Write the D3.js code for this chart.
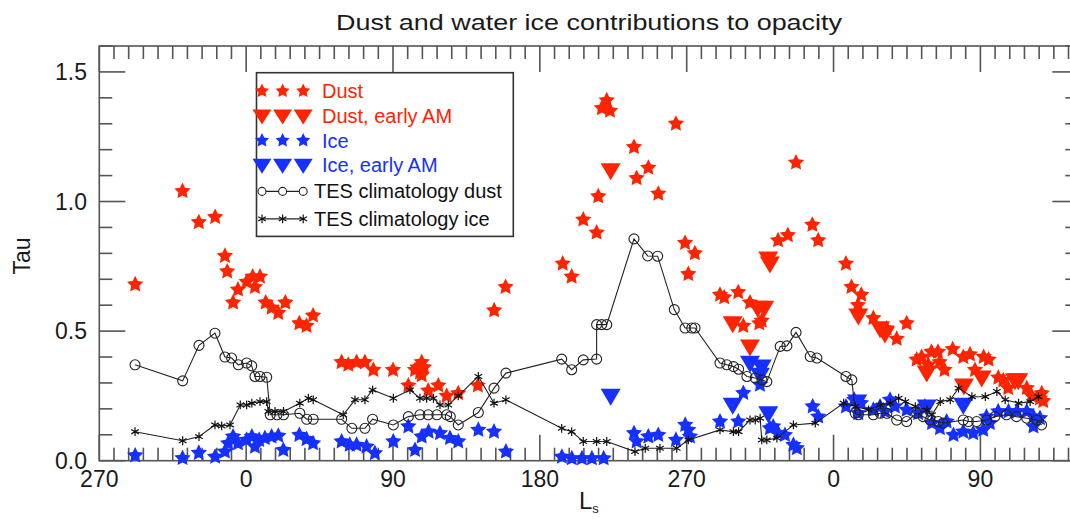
<!DOCTYPE html>
<html>
<head>
<meta charset="utf-8">
<script src="https://cdn.jsdelivr.net/npm/d3@7/dist/d3.min.js"></script>
<style>
  html, body { margin: 0; padding: 0; background: #fff; }
  svg { display: block; font-family: "Liberation Sans", Arial, Helvetica, sans-serif; }
</style>
</head>
<body>
<svg id="chart" width="1070" height="519"></svg>
<script>
// Cumulative Ls (degrees, -90 = Ls 270 of the previous year) and optical depth

const dustLs  = [-68, -39, -29, -19, -13, -11.6, -8, -5, 0.3, 4, 5.4, 8.5, 12, 15.6, 19.7, 24, 32.6, 37, 41,
  58.5, 62.6, 67.7, 72.8, 78, 90, 99.4, 103.5, 105, 107.6, 109, 106.5, 107.6, 111.6, 117.8, 122.9, 130,
  142, 152, 159, 194, 199.5, 206.6, 214.8, 215.8, 218, 221, 223, 237.7, 239.3, 246.5, 252.6, 263.4, 269,
  275, 271, 290.4, 293, 301.6, 308.8, 304.7, 314.5, 316, 326, 332, 337, 347, 350.6, 367.6, 371, 377, 375,
  384.4, 392.6, 398.7, 404.8, 410.9, 414, 418, 420, 424, 425, 428, 433, 439.5, 443.6, 446.7, 452, 455,
  461, 464, 467, 478.4, 481.4, 486.5, 487.6, 488.5];
const dustTau = [0.68, 1.04, 0.92, 0.94, 0.79, 0.73, 0.61, 0.66, 0.69, 0.71, 0.67, 0.71, 0.61, 0.59, 0.57, 0.61, 0.53, 0.52, 0.56,
  0.38, 0.37, 0.38, 0.38, 0.35, 0.35, 0.29, 0.35, 0.36, 0.38, 0.36, 0.34, 0.33, 0.27, 0.29, 0.25, 0.26,
  0.29, 0.58, 0.67, 0.76, 0.71, 0.93, 0.88, 1.02, 1.36, 1.39, 1.35, 1.21, 1.09, 1.13, 1.03, 1.30, 0.84,
  0.80, 0.72, 0.64, 0.63, 0.65, 0.61, 0.52, 0.53, 0.54, 0.85, 0.87, 1.15, 0.91, 0.85, 0.76, 0.67, 0.64, 0.60,
  0.55, 0.51, 0.47, 0.53, 0.39, 0.40, 0.37, 0.42, 0.42, 0.38, 0.35, 0.43, 0.40, 0.41, 0.35, 0.40, 0.39,
  0.32, 0.31, 0.28, 0.28, 0.25, 0.24, 0.26, 0.23];

const dustAmLs  = [223.4, 298.2, 313.5, 317.5, 308.8, 320, 321, 375.2, 388.5, 391.5, 417.1, 439.9, 450.8, 471.2, 473.2];
const dustAmTau = [1.12, 0.53, 0.59, 0.59, 0.44, 0.78, 0.76, 0.56, 0.51, 0.49, 0.34, 0.29, 0.32, 0.31, 0.31];

const iceLs  = [-68, -39, -29, -19, -13, -11, -8, -5, 0.3, 3.5, 5.4, 8, 11.5, 15.6, 19.7, 22.8, 32.6, 37, 41,
  58.5, 63.5, 67.7, 73.8, 78.9, 90.2, 99.4, 103.5, 107.6, 111.8, 118.8, 124.9, 130, 142.3, 151.9, 159.2,
  193.5, 199.6, 205.8, 211.9, 219.1, 237.7, 239.3, 246.5, 252.6, 263.4, 269.1, 271, 272, 290.4, 301.6,
  304.7, 314.9, 321, 323, 326.1, 330.2, 335.4, 337.5, 347.2, 350.6, 367.6, 372.7, 376.8, 375.2, 384.4,
  388.5, 391.5, 394.6, 397.6, 404.8, 411.9, 416, 420.3, 425.2, 429.3, 433.5, 439.5, 445.6, 451.7, 455.8,
  453.7, 460.9, 467.2, 472.4, 478.4, 482.5, 486.5, 482.5];
const iceTau = [0.02, 0.01, 0.03, 0.015, 0.035, 0.067, 0.093, 0.067, 0.08, 0.093, 0.054, 0.08, 0.087, 0.093, 0.096, 0.041, 0.099, 0.083, 0.067,
  0.074, 0.061, 0.061, 0.054, 0.029, 0.074, 0.132, 0.041, 0.093, 0.112, 0.106, 0.087, 0.074, 0.119, 0.112, 0.035,
  0.015, 0.009, 0.009, 0.009, 0.009, 0.106, 0.074, 0.093, 0.099, 0.08, 0.138, 0.119, 0.093, 0.151, 0.151,
  0.261, 0.293, 0.125, 0.132, 0.106, 0.099, 0.061, 0.048, 0.209, 0.17, 0.209, 0.235, 0.222, 0.183, 0.196,
  0.209, 0.19, 0.235, 0.209, 0.196, 0.183, 0.209, 0.145, 0.125, 0.151, 0.099, 0.112, 0.106, 0.119, 0.145,
  0.17, 0.19, 0.19, 0.19, 0.19, 0.17, 0.164, 0.132];

const iceAmLs  = [223.4, 298.2, 308.8, 316, 314.9, 320, 374.5, 417.1, 439.5];
const iceAmTau = [0.25, 0.215, 0.377, 0.363, 0.331, 0.183, 0.228, 0.209, 0.215];

const tesDustLs = [-68.1, -38.9, -28.9, -19.1, -13.0, -8.9, -4.8, 0.3, 3.4, 5.4, 8.5, 12.6, 14.8, 18.9, 22.9,
  32.9, 37.1, 41.1, 58.5, 64.8, 72.8, 77.5, 90.2, 99.4, 106.5, 111.6, 116.9, 122.9, 125.1, 130.0, 142.3,
  151.9, 159.2, 193.4, 199.5, 206.6, 214.8, 214.8, 217.9, 221.0, 237.7, 246.1, 252.2, 262.4, 269.0, 273.1,
  275.1, 290.4, 294.6, 298.7, 301.8, 306.9, 312.0, 316.1, 319.1, 327.3, 331.4, 337.0, 345.7, 349.8, 367.6,
  371.2, 373.3, 375.2, 384.4, 388.6, 392.7, 398.7, 404.8, 410.9, 414.9, 419.1, 424.2, 427.2, 439.5, 442.6,
  447.7, 453.8, 458.9, 466.0, 472.1, 478.4, 484.6, 487.5];
const tesDustTau = [0.370, 0.308, 0.445, 0.492, 0.400, 0.396, 0.370, 0.377, 0.366, 0.325, 0.325, 0.322, 0.177, 0.177, 0.177,
  0.183, 0.160, 0.160, 0.160, 0.125, 0.125, 0.160, 0.138, 0.170, 0.177, 0.177, 0.177, 0.177, 0.170, 0.138, 0.186,
  0.280, 0.338, 0.392, 0.351, 0.389, 0.392, 0.525, 0.525, 0.525, 0.856, 0.790, 0.789, 0.583, 0.512, 0.512,
  0.512, 0.377, 0.370, 0.363, 0.353, 0.325, 0.319, 0.312, 0.305, 0.441, 0.443, 0.495, 0.402, 0.396, 0.325,
  0.312, 0.183, 0.177, 0.177, 0.183, 0.183, 0.157, 0.151, 0.183, 0.170, 0.157, 0.151, 0.145, 0.157, 0.151,
  0.151, 0.157, 0.170, 0.177, 0.170, 0.164, 0.157, 0.138];

const tesIceLs = [-68.1, -38.9, -28.9, -19.1, -15.0, -9.9, -3.6, 0.3, 3.5, 8.5, 12.6, 13.6, 17.7, 22.9, 32.9,
  38.1, 41.1, 59.5, 66.7, 72.8, 77.5, 90.2, 100.4, 106.5, 110.6, 114.8, 118.8, 123.9, 130.0, 142.3, 151.9,
  159.2, 193.4, 199.5, 206.6, 214.8, 221.0, 238.3, 244.6, 253.6, 263.9, 271.0, 290.4, 298.6, 301.8, 308.8,
  312.0, 315.0, 316.0, 319.1, 325.3, 335.4, 348.8, 366.2, 373.3, 381.4, 388.6, 394.8, 399.9, 404.0, 410.1,
  417.2, 420.3, 425.4, 431.5, 436.6, 444.8, 453.0, 460.1, 465.2, 473.4, 480.5, 485.6];
const tesIceTau = [0.112, 0.077, 0.093, 0.138, 0.134, 0.138, 0.215, 0.215, 0.222, 0.228, 0.228, 0.190, 0.190, 0.190, 0.222,
  0.241, 0.235, 0.177, 0.235, 0.235, 0.273, 0.241, 0.273, 0.241, 0.241, 0.241, 0.215, 0.215, 0.250, 0.325, 0.222,
  0.235, 0.125, 0.112, 0.074, 0.074, 0.074, 0.035, 0.048, 0.048, 0.048, 0.080, 0.119, 0.112, 0.112, 0.157,
  0.157, 0.164, 0.080, 0.080, 0.087, 0.138, 0.145, 0.222, 0.209, 0.196, 0.215, 0.222, 0.241, 0.228, 0.209,
  0.196, 0.177, 0.228, 0.235, 0.280, 0.247, 0.247, 0.267, 0.235, 0.222, 0.228, 0.247];

const xMajorTicks = [-90, 0, 90, 180, 270, 360, 450];
const yMajorTicks = [0, 0.5, 1.0, 1.5];
const legendLabels = ["Dust", "Dust, early AM", "Ice", "Ice, early AM", "TES climatology dust", "TES climatology ice"];
const titleText = "Dust and water ice contributions to opacity";

// ---- layout ----
const RED = "#ff2400", BLUE = "#1530ff", AXIS = "#555";
const plotL = 99.3, plotR = 1078.3, plotT = 46, plotB = 460.7;

const svg = d3.select("#chart");
const x = d3.scaleLinear().domain([-90, 510]).range([plotL, plotR]);
const y = d3.scaleLinear().domain([0, 1.6]).range([plotB, plotT]);

// marker shapes
function starPath(R) {
  const pts = [];
  for (let i = 0; i < 10; i++) {
    const a = -Math.PI / 2 + i * Math.PI / 5;
    const r = i % 2 ? R * 0.5 : R;
    pts.push([(r * Math.cos(a)).toFixed(2), (r * Math.sin(a)).toFixed(2)]);
  }
  return "M" + pts.map(p => p.join(",")).join("L") + "Z";
}
const triPath = (w, h) => `M${-w / 2},${-h * 0.42}L${w / 2},${-h * 0.42}L0,${h * 0.58}Z`;
const asteriskPath = r => {
  const c = (r * Math.cos(Math.PI / 6)).toFixed(2), s = (r * 0.5).toFixed(2);
  return `M0,${-r}L0,${r}M${-c},${-s}L${c},${s}M${-c},${s}L${c},${-s}`;
};
const STAR = starPath(8.6), TRI = triPath(20, 17), AST = asteriskPath(4.4);

const zip = (a, b) => a.map((v, i) => [v, b[i]]);

// ---- axes frame and ticks ----
const axes = svg.append("g").attr("stroke", AXIS).attr("stroke-width", 1.6).attr("fill", "none");
axes.append("rect").attr("x", plotL).attr("y", plotT).attr("width", plotR - plotL).attr("height", plotB - plotT);

const xAll = d3.range(-90, 511, 9);
const xMinor = xAll.filter(v => !xMajorTicks.includes(v));
const yAll = d3.range(0, 16.01, 1).map(v => +(v / 10).toFixed(1));
const yMinor = yAll.filter(v => !yMajorTicks.includes(v));

const MAJ = 26, MIN = 13;
const tickLines = [];
xMinor.forEach(v => { tickLines.push([x(v), plotB, x(v), plotB - MIN]); tickLines.push([x(v), plotT, x(v), plotT + MIN]); });
xMajorTicks.forEach(v => { tickLines.push([x(v), plotB, x(v), plotB - MAJ]); tickLines.push([x(v), plotT, x(v), plotT + MAJ]); });
yMinor.forEach(v => { tickLines.push([plotL, y(v), plotL + MIN, y(v)]); tickLines.push([plotR, y(v), plotR - MIN, y(v)]); });
yMajorTicks.forEach(v => { tickLines.push([plotL, y(v), plotL + MAJ, y(v)]); tickLines.push([plotR, y(v), plotR - MAJ, y(v)]); });
axes.selectAll("line.tick").data(tickLines).join("line").attr("class", "tick")
  .attr("x1", d => d[0]).attr("y1", d => d[1]).attr("x2", d => d[2]).attr("y2", d => d[3]);

// tick labels
const lsFmt = v => String(((v % 360) + 360) % 360);
svg.append("g").attr("font-size", 23).attr("fill", "#1a1a1a").attr("text-anchor", "middle")
  .selectAll("text").data(xMajorTicks).join("text")
  .attr("x", d => x(d)).attr("y", 487).text(lsFmt);
svg.append("g").attr("font-size", 23).attr("fill", "#1a1a1a").attr("text-anchor", "end")
  .selectAll("text").data(yMajorTicks).join("text")
  .attr("x", 87).attr("y", d => y(d) + 8).text(d3.format(".1f"));

// axis titles
svg.append("text").attr("transform", "translate(30,256) rotate(-90)").attr("text-anchor", "middle")
  .attr("font-size", 23).attr("fill", "#1a1a1a").text("Tau");
const lsLabel = svg.append("text").attr("x", 579).attr("y", 509).attr("font-size", 24).attr("fill", "#1a1a1a");
lsLabel.append("tspan").text("L");
lsLabel.append("tspan").attr("font-size", 13).attr("dy", 4).text("s");

svg.append("text").attr("x", 589).attr("y", 30).attr("text-anchor", "middle").attr("font-size", 22)
  .attr("fill", "#1a1a1a").attr("textLength", 506).attr("lengthAdjust", "spacingAndGlyphs").text(titleText);

// ---- data marks ----
const plot = svg.append("g");

plot.append("g").selectAll("path").data(zip(dustLs, dustTau)).join("path")
  .attr("d", STAR).attr("fill", RED).attr("transform", d => `translate(${x(d[0])},${y(d[1])})`);
plot.append("g").selectAll("path").data(zip(dustAmLs, dustAmTau)).join("path")
  .attr("d", TRI).attr("fill", RED).attr("transform", d => `translate(${x(d[0])},${y(d[1])})`);
plot.append("g").selectAll("path").data(zip(iceLs, iceTau)).join("path")
  .attr("d", STAR).attr("fill", BLUE).attr("transform", d => `translate(${x(d[0])},${y(d[1])})`);
plot.append("g").selectAll("path").data(zip(iceAmLs, iceAmTau)).join("path")
  .attr("d", TRI).attr("fill", BLUE).attr("transform", d => `translate(${x(d[0])},${y(d[1])})`);

const line = d3.line().x(d => x(d[0])).y(d => y(d[1]));
const tesDust = zip(tesDustLs, tesDustTau), tesIce = zip(tesIceLs, tesIceTau);
plot.append("path").attr("d", line(tesIce)).attr("fill", "none").attr("stroke", "#222").attr("stroke-width", 1.1);
plot.append("g").selectAll("path").data(tesIce).join("path")
  .attr("d", AST).attr("fill", "none").attr("stroke", "#111").attr("stroke-width", 1.2)
  .attr("transform", d => `translate(${x(d[0])},${y(d[1])})`);
plot.append("path").attr("d", line(tesDust)).attr("fill", "none").attr("stroke", "#222").attr("stroke-width", 1.1);
plot.append("g").selectAll("circle").data(tesDust).join("circle")
  .attr("cx", d => x(d[0])).attr("cy", d => y(d[1])).attr("r", 5)
  .attr("fill", "none").attr("stroke", "#222").attr("stroke-width", 1.1);

// ---- legend ----
const lg = svg.append("g");
lg.append("rect").attr("x", 256.5).attr("y", 72.7).attr("width", 256.8).attr("height", 163.7)
  .attr("fill", "#fff").attr("stroke", "#333").attr("stroke-width", 1.6);
const rowY = [91, 115.7, 140.5, 165, 191.4, 218.9];
const symX = [262, 282.6, 303.2];
const legendStyle = [
  { shape: starPath(7.4), color: RED, text: RED, tx: 322 },
  { shape: triPath(19, 15), color: RED, text: RED, tx: 322 },
  { shape: starPath(7.4), color: BLUE, text: BLUE, tx: 322 },
  { shape: triPath(19, 15), color: BLUE, text: BLUE, tx: 322 },
  { circle: true, text: "#111", tx: 314 },
  { ast: true, text: "#111", tx: 314 }
];
legendLabels.forEach((label, i) => {
  const st = legendStyle[i], yy = rowY[i];
  if (st.circle || st.ast) {
    lg.append("line").attr("x1", symX[0]).attr("x2", symX[2]).attr("y1", yy).attr("y2", yy)
      .attr("stroke", "#222").attr("stroke-width", 1.1);
  }
  symX.forEach(sx => {
    if (st.circle) {
      lg.append("circle").attr("cx", sx).attr("cy", yy).attr("r", 4).attr("fill", "#fff")
        .attr("stroke", "#222").attr("stroke-width", 1.1);
    } else if (st.ast) {
      lg.append("path").attr("d", AST).attr("transform", `translate(${sx},${yy})`)
        .attr("stroke", "#111").attr("stroke-width", 1.2).attr("fill", "none");
    } else {
      lg.append("path").attr("d", st.shape).attr("transform", `translate(${sx},${yy})`).attr("fill", st.color);
    }
  });
  lg.append("text").attr("x", st.tx).attr("y", yy + 7).attr("font-size", 20).attr("fill", st.text).text(label);
});
</script>
</body>
</html>
